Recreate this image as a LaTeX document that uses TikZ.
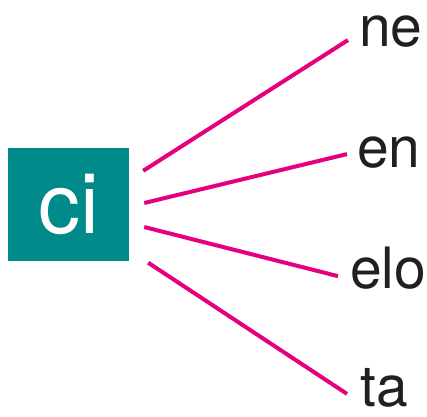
\documentclass[tikz,border=0pt]{standalone}
\usepackage{fontspec}
\setmainfont{TeX Gyre Heros}
\usetikzlibrary{calc}
\definecolor{tealbox}{HTML}{008B8A}
\definecolor{pinkline}{HTML}{E5007E}
\definecolor{inkgray}{HTML}{231F20}

\begin{document}
\begin{tikzpicture}[x=1pt, y=-1pt,
    spoke/.style={draw=pinkline, line width=4pt},
    word/.style={anchor=base west, inner sep=0pt, text=inkgray, font=\fontsize{57}{60}\selectfont}]
\useasboundingbox (0,0) rectangle (427,416);
\node[fill=tealbox, minimum width=121pt, minimum height=113pt, inner sep=0pt, text=white, font=\fontsize{84}{86}\selectfont] (ci) at (68.5,204.5) {ci};
\node[word] (ne) at (359,46) {ne};
\node[word] (en) at (357,167) {en};
\node[word] (elo) at (350,288) {elo};
\node[word] (ta) at (360,406) {ta};
% spokes
\draw[spoke] ($(ci.north east)+(14,23)$) -- ($(ne.west)+(-11,9)$);
\draw[spoke] ($(ci.east)+(15,-1.5)$) -- ($(en.west)+(-10,2)$);
\draw[spoke] ($(ci.east)+(15,22.5)$) -- ($(elo.west)+(-12,8.5)$);
\draw[spoke] ($(ci.south east)+(19,1.5)$) -- ($(ta.west)+(-13,6.5)$);
\end{tikzpicture}
\end{document}
